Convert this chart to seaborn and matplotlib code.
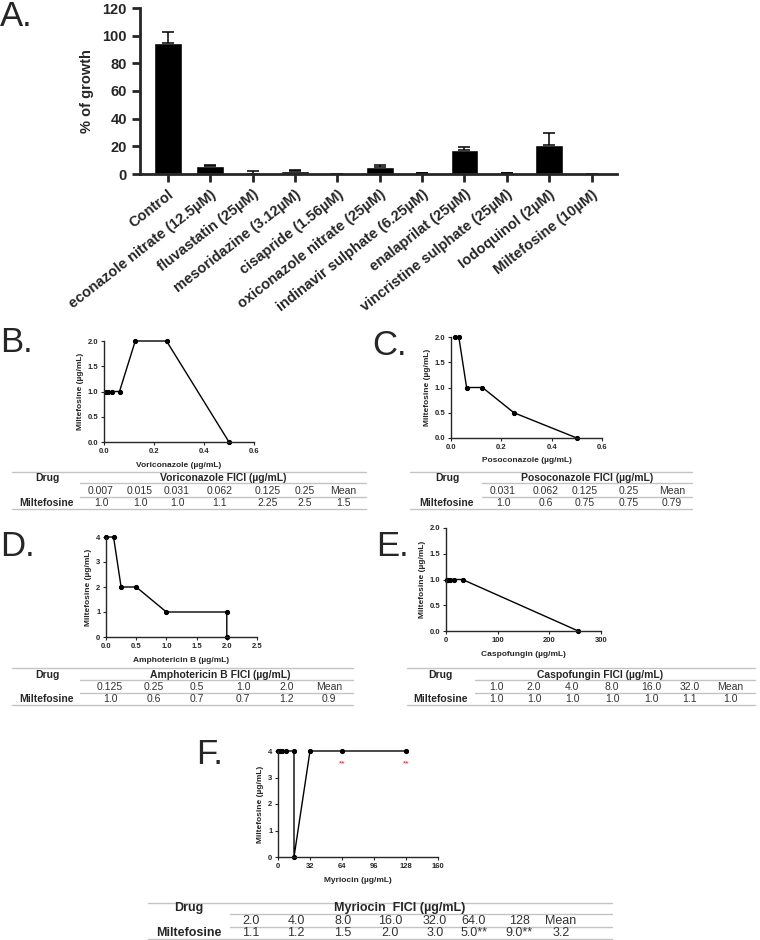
import matplotlib
matplotlib.use("Agg")
import matplotlib.pyplot as plt
import seaborn as sns
import pandas as pd
from matplotlib.lines import Line2D

W, H = 760, 940

# ---- panel A: screening ----
drugs = ["Control", "econazole nitrate (12.5µM)", "fluvastatin (25µM)",
         "mesoridazine (3.12µM)", "cisapride (1.56µM)", "oxiconazole nitrate (25µM)",
         "indinavir sulphate (6.25µM)", "enalaprilat (25µM)", "vincristine sulphate (25µM)",
         "Iodoquinol (2µM)", "Miltefosine (10µM)"]
growth = [94.5, 5.5, 0.3, 2.2, 0.0, 5.0, 0.5, 17.0, 0.5, 21.0, 0.0]
growth_sd = [8.0, 0.8, 2.0, 1.0, 0.0, 1.5, 0.5, 2.8, 0.5, 8.5, 0.0]

# ---- panel B: voriconazole ----
vori_x = [0.007, 0.015, 0.031, 0.062, 0.125, 0.25, 0.5]
vori_milt = [1.0, 1.0, 1.0, 1.0, 2.0, 2.0, 0.0]
vori_conc = ["0.007", "0.015", "0.031", "0.062", "0.125", "0.25", "Mean"]
vori_fici = ["1.0", "1.0", "1.0", "1.1", "2.25", "2.5", "1.5"]

# ---- panel C: posoconazole ----
poso_x = [0.015, 0.031, 0.062, 0.125, 0.25, 0.5]
poso_milt = [2.0, 2.0, 1.0, 1.0, 0.5, 0.0]
poso_conc = ["0.031", "0.062", "0.125", "0.25", "Mean"]
poso_fici = ["1.0", "0.6", "0.75", "0.75", "0.79"]

# ---- panel D: amphotericin B ----
amph_x = [0.0, 0.125, 0.25, 0.5, 1.0, 2.0, 2.0]
amph_milt = [4, 4, 2, 2, 1, 1, 0]
amph_conc = ["0.125", "0.25", "0.5", "1.0", "2.0", "Mean"]
amph_fici = ["1.0", "0.6", "0.7", "0.7", "1.2", "0.9"]

# ---- panel E: caspofungin ----
casp_x = [1, 2, 4, 8, 16, 32, 256]
casp_milt = [1.0, 1.0, 1.0, 1.0, 1.0, 1.0, 0.0]
casp_conc = ["1.0", "2.0", "4.0", "8.0", "16.0", "32.0", "Mean"]
casp_fici = ["1.0", "1.0", "1.0", "1.0", "1.0", "1.1", "1.0"]

# ---- panel F: myriocin ----
myr_x = [0, 2, 4, 8, 16, 16, 32, 64, 128]
myr_milt = [4, 4, 4, 4, 4, 0, 4, 4, 4]
myr_star_x = [64, 128]
myr_conc = ["2.0", "4.0", "8.0", "16.0", "32.0", "64.0", "128", "Mean"]
myr_fici = ["1.1", "1.2", "1.5", "2.0", "3.0", "5.0**", "9.0**", "3.2"]

sns.set_style("ticks")
plt.rcParams["font.family"] = ["Liberation Sans", "DejaVu Sans"]


def px_axes(fig, left, top, right, bottom):
    return fig.add_axes([left / W, 1 - bottom / H, (right - left) / W, (bottom - top) / H])


def ftext(fig, x, y, s, **kw):
    fig.text(x / W, 1 - y / H, s, ha=kw.pop("ha", "center"), va=kw.pop("va", "center"), **kw)


def hline(fig, x0, x1, y, color="#c4c4c4"):
    fig.add_artist(Line2D([x0 / W, x1 / W], [1 - y / H] * 2, color=color, lw=1.0,
                          transform=fig.transFigure))


def draw_table(fig, x0, x1, sub_x0, ys, drug_x, head_x, header, col_x, conc, fici, fs=7.5):
    top, head_y, l2, val_y, l3, mil_y, bot = ys
    hline(fig, x0, x1, top)
    hline(fig, sub_x0, x1, l2)
    hline(fig, sub_x0, x1, l3)
    hline(fig, x0, x1, bot)
    ftext(fig, drug_x, head_y, "Drug", fontsize=fs, fontweight="bold")
    ftext(fig, head_x, head_y, header, fontsize=fs, fontweight="bold")
    ftext(fig, drug_x, mil_y, "Miltefosine", fontsize=fs, fontweight="bold")
    for cx, c, f in zip(col_x, conc, fici):
        ftext(fig, cx, val_y, c, fontsize=fs, color="#333333")
        ftext(fig, cx, mil_y, f, fontsize=fs, color="#333333")


def fici_plot(ax, x, y, xlim, xticks, ylim, yticks, xlabel):
    sns.lineplot(x=x, y=y, sort=False, estimator=None, marker="o", color="black",
                 markersize=3, markeredgecolor="black", lw=1.0, clip_on=False, ax=ax)
    ax.set_xlim(*xlim)
    ax.set_ylim(*ylim)
    ax.set_xticks(xticks)
    ax.set_yticks(yticks)
    ax.set_xlabel(xlabel, fontsize=6, fontweight="bold", labelpad=5)
    ax.set_ylabel("Miltefosine (µg/mL)", fontsize=6, fontweight="bold", labelpad=3)
    ax.tick_params(length=2.5, width=0.8, labelsize=5.5, pad=1.5)
    for lab in ax.get_xticklabels() + ax.get_yticklabels():
        lab.set_fontweight("bold")
    for s in ["left", "bottom"]:
        ax.spines[s].set_linewidth(1.0)
    sns.despine(ax=ax)


fig = plt.figure(figsize=(W / 100, H / 100), dpi=100)

# panel A
axA = px_axes(fig, 140, 8, 617, 174)
dfA = pd.DataFrame({"drug": drugs, "growth": growth})
sns.barplot(data=dfA, x="drug", y="growth", color="black", width=0.66,
            saturation=1, errorbar=None, ax=axA)
axA.errorbar(range(len(drugs)), growth, yerr=[[0] * len(drugs), growth_sd],
             fmt="none", ecolor="black", elinewidth=1.1, capsize=4, capthick=1.1)
axA.set_xlim(-0.66, 10.6)
axA.set_ylim(0, 120)
axA.set_yticks(range(0, 121, 20))
axA.set_xlabel("")
axA.set_ylabel("% of growth", fontsize=10.5, fontweight="bold", labelpad=6)
axA.tick_params(axis="both", length=6, width=2, labelsize=10.5)
axA.set_xticks(range(len(drugs)))
axA.set_xticklabels(drugs, rotation=38, ha="right", rotation_mode="anchor", fontweight="bold")
for lab in axA.get_yticklabels():
    lab.set_fontweight("bold")
for s in ["left", "bottom"]:
    axA.spines[s].set_linewidth(2)
sns.despine(ax=axA)

# panel B
axB = px_axes(fig, 104, 341, 254, 442)
fici_plot(axB, vori_x, vori_milt, (0, 0.6), [0, 0.2, 0.4, 0.6], (0, 2), [0, 0.5, 1, 1.5, 2],
          "Voriconazole (µg/mL)")
draw_table(fig, 12, 366, 80, (472, 478, 483, 491, 497, 503, 509), 47, 223,
           "Voriconazole FICI (µg/mL)", [101, 140, 177, 220, 268, 305, 343], vori_conc, vori_fici)

# panel C
axC = px_axes(fig, 451, 337, 602, 438)
fici_plot(axC, poso_x, poso_milt, (0, 0.6), [0, 0.2, 0.4, 0.6], (0, 2), [0, 0.5, 1, 1.5, 2],
          "Posoconazole (µg/mL)")
draw_table(fig, 410, 692, 482, (472, 478, 483, 491, 497, 503, 509), 447, 587,
           "Posoconazole FICI (µg/mL)", [503, 546, 585, 629, 672], poso_conc, poso_fici)

# panel D
axD = px_axes(fig, 106, 537, 257, 637)
fici_plot(axD, amph_x, amph_milt, (0, 2.5), [0, 0.5, 1, 1.5, 2, 2.5], (0, 4), [0, 1, 2, 3, 4],
          "Amphotericin B (µg/mL)")
draw_table(fig, 12, 353, 80, (668, 675, 680, 687, 693, 699, 705), 47, 220,
           "Amphotericin B FICI (µg/mL)", [110, 154, 197, 243, 287, 329], amph_conc, amph_fici)

# panel E
axE = px_axes(fig, 446, 528, 601, 631)
fici_plot(axE, casp_x, casp_milt, (0, 300), [0, 100, 200, 300], (0, 2), [0, 0.5, 1, 1.5, 2],
          "Caspofungin (µg/mL)")
draw_table(fig, 407, 755, 475, (668, 675, 680, 687, 693, 699, 705), 440, 600,
           "Caspofungin FICI (µg/mL)", [496, 534, 572, 612, 651, 690, 730], casp_conc, casp_fici)

# panel F
axF = px_axes(fig, 278, 751, 438, 857)
fici_plot(axF, myr_x, myr_milt, (0, 160), [0, 32, 64, 96, 128, 160], (0, 4), [0, 1, 2, 3, 4],
          "Myriocin (µg/mL)")
for sx in myr_star_x:
    axF.annotate("**", (sx, 4), xytext=(0, -9), textcoords="offset points", ha="center",
                 va="center", color="red", fontsize=6)
draw_table(fig, 148, 612, 230, (903, 908, 914, 921, 927, 933, 939), 189, 400,
           "Myriocin  FICI (µg/mL)", [251, 296, 343, 390, 435, 474, 519, 561], myr_conc, myr_fici,
           fs=9)

# panel letters
for letter, x, y in [("A.", 0, 16), ("B.", 0, 342), ("C.", 372, 346), ("D.", 0, 546),
                     ("E.", 376, 547), ("F.", 196, 754)]:
    ftext(fig, x, y, letter, fontsize=25, ha="left")

fig.savefig("out.png", dpi=100)
